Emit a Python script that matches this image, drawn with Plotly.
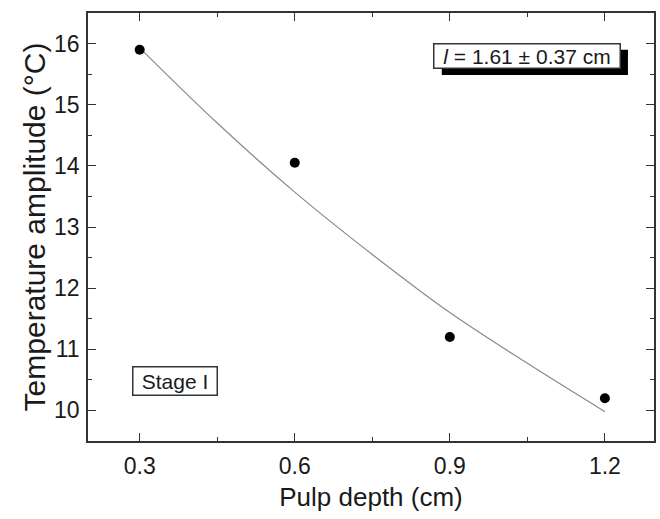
import plotly.graph_objects as go

depth = [0.3, 0.6, 0.9, 1.2]
amplitude = [15.9, 14.05, 11.2, 10.2]

fit_x = [0.3, 0.45, 0.6, 0.75, 0.9, 1.05, 1.2]
fit_y = [15.93, 14.7, 13.57, 12.55, 11.6, 10.77, 9.98]

x_ticks = [0.3, 0.6, 0.9, 1.2]
x_tick_labels = ["0.3", "0.6", "0.9", "1.2"]
y_ticks = [10, 11, 12, 13, 14, 15, 16]

font_family = "Liberation Sans, Arial, sans-serif"
axis_color = "#333333"
text_color = "#1a1a1a"

fig = go.Figure()
fig.add_trace(go.Scatter(x=fit_x, y=fit_y, mode="lines", line=dict(color="#8a8a8a", width=1.2, shape="spline"),
                         showlegend=False, hoverinfo="skip"))
fig.add_trace(go.Scatter(x=depth, y=amplitude, mode="markers",
                         marker=dict(color="black", size=10), showlegend=False))

common = dict(showline=True, linecolor=axis_color, linewidth=1.6, mirror="ticks", ticks="inside",
              ticklen=8, tickwidth=1.4, tickcolor=axis_color, showgrid=False, zeroline=False,
              tickfont=dict(family=font_family, size=23, color=text_color))

fig.update_xaxes(range=[0.2, 1.295], tickvals=x_ticks, ticktext=x_tick_labels,
                 minor=dict(ticks="inside", ticklen=4, tickwidth=1.2, tickcolor=axis_color, dtick=0.15, tick0=0.15),
                 title=dict(text="Pulp depth (cm)", font=dict(family=font_family, size=26, color=text_color), standoff=9),
                 ticklabelstandoff=4, **common)
fig.update_yaxes(range=[9.5, 16.5], tickvals=y_ticks,
                 minor=dict(ticks="inside", ticklen=4, tickwidth=1.2, tickcolor=axis_color, dtick=0.5, tick0=0),
                 title=dict(text="Temperature amplitude (°C)", font=dict(family=font_family, size=30, color=text_color), standoff=0),
                 ticklabelstandoff=2, **common)

# shadow of the fit-parameter box
fig.add_shape(type="rect", xref="paper", yref="paper", x0=0.625, x1=0.954, y0=0.855, y1=0.914,
              fillcolor="black", line=dict(width=0), layer="above")
fig.add_annotation(xref="paper", yref="paper", x=0.942, y=0.930, xanchor="right", yanchor="top",
                   text="<i>l</i> = 1.61 ± 0.37 cm", showarrow=False, width=183, height=21, align="center",
                   font=dict(family=font_family, size=21, color=text_color),
                   bgcolor="white", bordercolor="#333", borderwidth=1.5, borderpad=1)
fig.add_annotation(xref="paper", yref="paper", x=0.077, y=0.175, xanchor="left", yanchor="top",
                   text="Stage I", showarrow=False, width=81, height=25,
                   font=dict(family=font_family, size=21, color=text_color),
                   bgcolor="white", bordercolor="#333", borderwidth=1.5, borderpad=1)

fig.update_layout(width=660, height=519, margin=dict(l=88, r=4, t=13, b=78),
                  plot_bgcolor="white", paper_bgcolor="white")

fig.write_html("out.html")
